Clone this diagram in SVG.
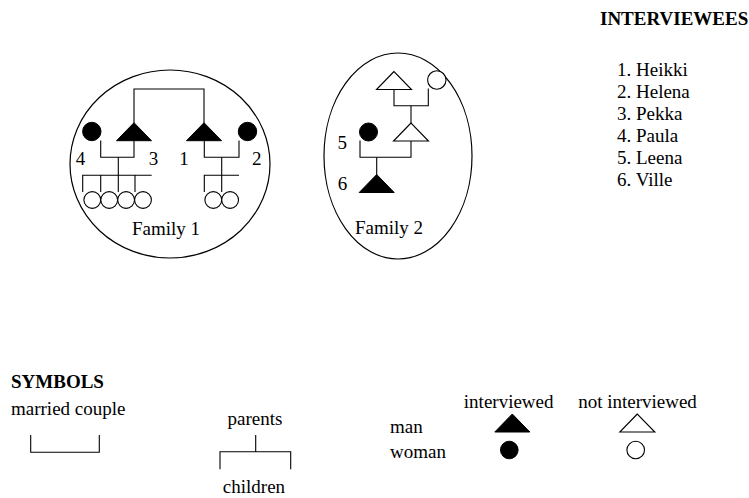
<svg xmlns="http://www.w3.org/2000/svg" width="749" height="498" viewBox="0 0 749 498">
<style>
text{font-family:"Liberation Serif","Times New Roman",serif;font-size:19px;fill:#000}
.b{font-weight:bold}
.m{text-anchor:middle}
.ln{fill:none;stroke:#000;stroke-width:1.1}
.f{fill:#000;stroke:#000;stroke-width:1}
.o{fill:#fff;stroke:#000;stroke-width:1.1}
.el{fill:none;stroke:#000;stroke-width:1.2}
</style>
<defs>
<polygon id="tri" points="0,0 -17.5,18 17.5,18"/>
</defs>
<rect width="749" height="498" fill="#fff"/>

<g id="family1">
<ellipse class="el" cx="170" cy="164" rx="100" ry="94"/>
<text class="m" x="166" y="235">Family 1</text>
</g>
<g id="family2">
<ellipse class="el" cx="398" cy="156" rx="74" ry="103"/>
<text class="m" x="389" y="234">Family 2</text>
</g>

<g id="connectors">
<path class="ln" d="M134 123V89H204V123"/>
<path class="ln" d="M100.7 140.5V157.3H134V140.7"/>
<path class="ln" d="M118.3 157.3V192"/>
<path class="ln" d="M82.7 192V175.3H151.7M100.7 175.3V192M135 175.3V192"/>
<path class="ln" d="M204.3 140.7V157.3H239V140.5"/>
<path class="ln" d="M221.7 157.3V192"/>
<path class="ln" d="M204.3 192V175.3H239"/>
<path class="ln" d="M394 88.3V105.7H428.3V88.5"/>
<path class="ln" d="M411 105.7V123.3"/>
<path class="ln" d="M360 140.5V157.3H411V140.7"/>
<path class="ln" d="M376.7 157.3V175"/>
</g>

<g id="p3"><use href="#tri" class="f" x="134" y="122.7"/><text class="m" x="153.5" y="165">3</text></g>
<g id="p1"><use href="#tri" class="f" x="204" y="122.7"/><text class="m" x="184" y="165">1</text></g>
<g id="p4"><circle class="f" cx="91.8" cy="131.5" r="9.2"/><text class="m" x="80.5" y="165">4</text></g>
<g id="p2"><circle class="f" cx="247.5" cy="131.5" r="9.2"/><text class="m" x="256.8" y="165">2</text></g>
<g id="children3-4">
<circle class="o" cx="92.3" cy="200" r="8.4"/>
<circle class="o" cx="109.2" cy="200" r="8.4"/>
<circle class="o" cx="126.1" cy="200" r="8.4"/>
<circle class="o" cx="143" cy="200" r="8.4"/>
</g>
<g id="children1-2">
<circle class="o" cx="213.3" cy="200" r="8.4"/>
<circle class="o" cx="230.1" cy="200" r="8.4"/>
</g>

<g id="grandfather"><use href="#tri" class="o" x="394" y="71.5"/></g>
<g id="grandmother"><circle class="o" cx="436.8" cy="80" r="9.2"/></g>
<g id="father"><use href="#tri" class="o" x="411" y="123"/></g>
<g id="p5"><circle class="f" cx="368.5" cy="132" r="9"/><text class="m" x="342.2" y="149">5</text></g>
<g id="p6"><use href="#tri" class="f" x="376.7" y="174.5"/><text class="m" x="342.5" y="190">6</text></g>

<g id="interviewees">
<text class="b" x="600" y="25">INTERVIEWEES</text>
<text x="617" y="76">1. Heikki</text>
<text x="617" y="98">2. Helena</text>
<text x="617" y="120">3. Pekka</text>
<text x="617" y="142">4. Paula</text>
<text x="617" y="164">5. Leena</text>
<text x="617" y="186">6. Ville</text>
</g>

<g id="symbols">
<text class="b" x="11" y="388">SYMBOLS</text>
<text x="11" y="415">married couple</text>
<path class="ln" d="M30.7 435V452.3H99.3V435"/>
<text class="m" x="255" y="425">parents</text>
<path class="ln" d="M255.7 435V451.7M220 469.3V451.7H290.7V469.3"/>
<text class="m" x="254" y="493">children</text>
<text x="390" y="433">man</text>
<text x="390" y="458">woman</text>
<text class="m" x="508.7" y="408">interviewed</text>
<text class="m" x="637.5" y="408">not interviewed</text>
<use href="#tri" class="f" x="512.3" y="414"/>
<use href="#tri" class="o" x="637.3" y="414"/>
<circle class="f" cx="509.3" cy="450" r="8.8"/>
<circle class="o" cx="635.7" cy="450" r="8.8"/>
</g>
</svg>
